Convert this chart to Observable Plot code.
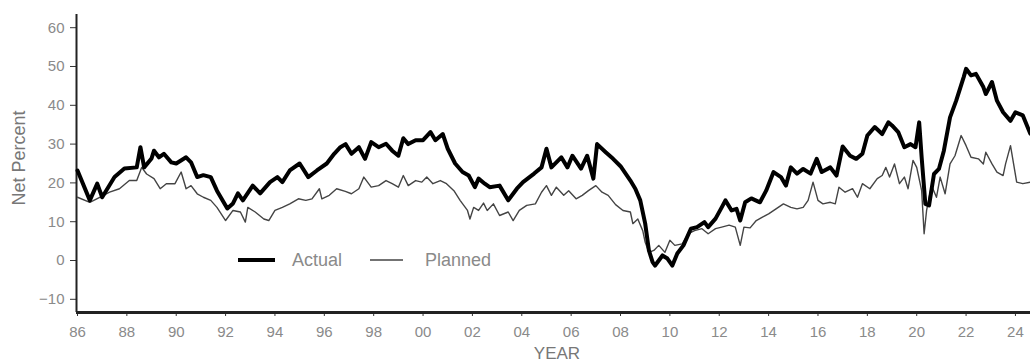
<!DOCTYPE html>
<html>
<head>
<meta charset="utf-8">
<script src="https://cdn.jsdelivr.net/npm/d3@7"></script>
<script src="https://cdn.jsdelivr.net/npm/@observablehq/plot@0.6"></script>
<style>
  body { margin: 0; background: #fff; }
  #wrap { position: relative; width: 1030px; height: 364px; overflow: hidden; font-family: "Liberation Sans", Arial, sans-serif; }
  #wrap svg text { fill: #8a8a8a; }
  .ylab { position: absolute; left: 19px; top: 158px; transform: translate(-50%, -50%) rotate(-90deg); font-size: 18px; color: #777; white-space: nowrap; }
  .xlab { position: absolute; left: 557px; top: 353px; transform: translate(-50%, -50%); font-size: 17px; line-height: 17px; color: #777; white-space: nowrap; }
  #legend { position: absolute; left: 0; top: 0; }
</style>
</head>
<body>
<div id="wrap"></div>
<script>
const seriesNames = ["Actual", "Planned"];
const xTickYears = [1986,1988,1990,1992,1994,1996,1998,2000,2002,2004,2006,2008,2010,2012,2014,2016,2018,2020,2022,2024];
const yTickValues = [-10,0,10,20,30,40,50,60];

const actualYear = [1986.0,1986.5,1986.8,1987.0,1987.5,1987.9,1988.4,1988.55,1988.7,1989.0,1989.1,1989.3,1989.5,1989.8,1990.0,1990.4,1990.6,1990.85,1991.1,1991.4,1991.65,1992.07,1992.3,1992.5,1992.7,1993.1,1993.4,1993.8,1994.1,1994.3,1994.6,1995.0,1995.35,1995.7,1996.1,1996.4,1996.65,1996.86,1997.1,1997.4,1997.65,1997.9,1998.2,1998.5,1998.75,1999.0,1999.2,1999.4,1999.7,2000.0,2000.3,2000.5,2000.8,2001.0,2001.3,2001.6,2001.85,2002.1,2002.25,2002.5,2002.7,2003.1,2003.45,2003.8,2004.05,2004.5,2004.8,2005.0,2005.2,2005.6,2005.85,2006.05,2006.4,2006.65,2006.9,2007.05,2007.4,2007.7,2008.0,2008.4,2008.6,2008.8,2009.0,2009.15,2009.3,2009.4,2009.7,2009.9,2010.1,2010.3,2010.55,2010.85,2011.1,2011.4,2011.55,2011.85,2012.1,2012.25,2012.5,2012.7,2012.85,2013.05,2013.3,2013.65,2013.9,2014.2,2014.5,2014.7,2014.9,2015.15,2015.4,2015.7,2015.95,2016.15,2016.5,2016.75,2017.0,2017.3,2017.55,2017.8,2018.0,2018.3,2018.6,2018.85,2019.0,2019.25,2019.5,2019.75,2019.95,2020.1,2020.2,2020.35,2020.5,2020.7,2020.9,2021.1,2021.35,2021.6,2021.9,2022.0,2022.2,2022.4,2022.7,2022.8,2023.05,2023.25,2023.5,2023.8,2024.0,2024.3,2024.6];
const actualValue = [23.2,15.5,19.8,16.3,21.5,23.7,24.0,29.2,24.0,26.3,28.3,26.6,27.5,25.3,25.0,26.6,25.3,21.5,22.0,21.5,18.0,13.4,14.7,17.3,15.5,19.3,17.3,20.2,21.5,20.2,23.2,25.0,21.5,23.2,25.0,27.5,29.2,30.0,27.5,29.2,26.2,30.5,29.2,30.1,28.3,27.0,31.5,30.0,31.0,31.0,33.1,31.0,32.6,28.8,25.0,22.8,21.9,18.9,21.1,19.8,18.9,19.3,15.5,18.5,20.2,22.4,24.0,28.8,24.0,26.6,24.0,27.0,23.7,27.0,21.1,30.0,27.9,26.2,24.3,20.6,18.5,15.5,9.5,2.6,-0.4,-1.3,1.3,0.5,-1.3,1.8,3.9,8.2,8.6,9.9,8.6,10.8,13.7,15.5,12.9,13.3,10.3,15.0,16.0,15.0,18.0,22.8,21.5,19.3,24.0,22.4,23.6,22.4,26.2,22.8,24.0,21.9,29.4,27.0,26.2,27.5,32.2,34.4,32.6,35.6,34.8,33.1,29.2,30.0,29.2,35.6,26.6,14.6,14.2,22.3,23.6,28.3,36.9,41.2,47.2,49.4,47.7,48.1,44.7,42.9,46.0,41.2,38.2,36.0,38.2,37.4,32.7];

const plannedYear = [1986.0,1986.5,1986.9,1987.3,1987.7,1988.1,1988.4,1988.6,1988.8,1989.1,1989.35,1989.6,1989.95,1990.2,1990.4,1990.6,1990.85,1991.1,1991.4,1991.65,1992.0,1992.3,1992.6,1992.8,1992.9,1993.2,1993.55,1993.75,1994.0,1994.3,1994.6,1994.95,1995.25,1995.5,1995.8,1995.9,1996.2,1996.5,1996.85,1997.1,1997.4,1997.6,1997.9,1998.2,1998.5,1998.75,1999.0,1999.2,1999.4,1999.7,1999.95,2000.15,2000.4,2000.7,2000.95,2001.25,2001.5,2001.8,2001.9,2002.05,2002.25,2002.45,2002.6,2002.85,2003.1,2003.45,2003.65,2003.9,2004.2,2004.55,2004.8,2005.0,2005.2,2005.4,2005.7,2005.9,2006.2,2006.45,2006.7,2007.0,2007.25,2007.5,2007.8,2008.1,2008.4,2008.5,2008.7,2008.9,2009.0,2009.15,2009.35,2009.55,2009.8,2010.0,2010.2,2010.5,2010.75,2011.0,2011.3,2011.55,2011.85,2012.1,2012.4,2012.65,2012.85,2013.0,2013.25,2013.5,2013.75,2014.0,2014.3,2014.6,2014.9,2015.15,2015.4,2015.6,2015.8,2016.0,2016.2,2016.5,2016.7,2016.85,2017.1,2017.4,2017.6,2017.8,2018.1,2018.4,2018.6,2018.75,2018.9,2019.1,2019.3,2019.5,2019.65,2019.85,2020.0,2020.2,2020.3,2020.4,2020.6,2020.8,2020.95,2021.15,2021.35,2021.55,2021.8,2022.0,2022.2,2022.5,2022.7,2022.8,2023.05,2023.25,2023.5,2023.6,2023.8,2024.05,2024.3,2024.6];
const plannedValue = [16.3,15.0,16.3,17.6,18.5,20.6,20.6,24.0,22.3,21.1,18.5,19.8,19.8,22.8,18.5,19.3,17.2,16.3,15.5,13.7,10.3,12.9,12.5,9.9,13.7,12.5,10.7,10.3,12.9,13.7,14.6,15.9,15.5,15.9,18.5,15.9,16.8,18.5,17.8,17.2,18.5,21.5,18.9,19.3,20.6,19.8,18.9,21.9,19.3,20.6,20.2,21.5,19.8,20.6,19.8,18.0,15.5,12.9,10.7,13.7,12.9,14.8,12.9,14.6,11.6,12.5,10.3,12.9,14.2,14.6,17.6,19.3,16.8,18.9,16.8,18.0,15.9,16.8,18.0,19.3,17.6,16.8,14.4,12.9,12.5,9.5,10.7,7.7,4.7,2.1,2.6,3.9,2.1,5.2,3.9,4.3,6.9,7.7,8.2,6.9,8.2,8.6,9.1,8.6,3.9,8.6,8.4,10.3,11.2,12.0,13.3,14.6,13.7,13.3,13.7,15.5,20.2,15.5,14.6,15.0,14.6,18.9,17.6,18.5,16.3,19.8,18.5,21.1,21.9,24.0,21.5,24.9,19.8,21.5,18.5,25.8,24.0,18.0,6.9,12.9,19.3,16.3,21.5,17.2,24.9,27.0,32.2,29.6,26.6,26.2,24.9,27.9,24.9,22.8,21.9,24.9,29.6,20.2,19.8,20.2];

const actual = actualYear.map((year, i) => ({year, value: actualValue[i]}));
const planned = plannedYear.map((year, i) => ({year, value: plannedValue[i]}));

const xDomain = [1985.96, 2024.61];
const yDomain = [-13.4, 63.4];

const chart = Plot.plot({
  width: 1030,
  height: 364,
  marginLeft: 76,
  marginRight: 0,
  marginTop: 14,
  marginBottom: 52,
  style: {fontFamily: "'Liberation Sans', Arial, sans-serif", fontSize: "15px", color: "#333", background: "white", overflow: "visible"},
  x: {domain: xDomain, ticks: xTickYears, tickFormat: d => String(d % 100).padStart(2, "0"), tickSize: 4, tickPadding: 10, label: null},
  y: {domain: yDomain, ticks: yTickValues, tickSize: 6, tickPadding: 6, label: null},
  marks: [
    Plot.ruleX([xDomain[0]], {stroke: "#222", strokeWidth: 2}),
    Plot.ruleY([yDomain[0]], {stroke: "#222", strokeWidth: 3}),
    Plot.line(planned, {x: "year", y: "value", stroke: "#444", strokeWidth: 1.4}),
    Plot.line(actual, {x: "year", y: "value", stroke: "#000", strokeWidth: 4, strokeLinejoin: "round"})
  ]
});

const wrap = document.getElementById("wrap");
wrap.appendChild(chart);

const ylab = document.createElement("div");
ylab.className = "ylab"; ylab.textContent = "Net Percent";
wrap.appendChild(ylab);
const xlab = document.createElement("div");
xlab.className = "xlab"; xlab.textContent = "YEAR";
wrap.appendChild(xlab);

const NS = "http://www.w3.org/2000/svg";
const leg = document.createElementNS(NS, "svg");
leg.setAttribute("id", "legend");
leg.setAttribute("width", 1030); leg.setAttribute("height", 364);
const items = [
  {x1: 238, x2: 275, w: 4, c: "#000", tx: 292},
  {x1: 370, x2: 403, w: 1.4, c: "#444", tx: 425}
];
items.forEach((it, i) => {
  const l = document.createElementNS(NS, "line");
  l.setAttribute("x1", it.x1); l.setAttribute("x2", it.x2);
  l.setAttribute("y1", 260); l.setAttribute("y2", 260);
  l.setAttribute("stroke", it.c); l.setAttribute("stroke-width", it.w);
  leg.appendChild(l);
  const t = document.createElementNS(NS, "text");
  t.setAttribute("x", it.tx); t.setAttribute("y", 266);
  t.setAttribute("font-size", "18px");
  t.setAttribute("font-family", "'Liberation Sans', Arial, sans-serif");
  t.setAttribute("fill", "#777");
  t.textContent = seriesNames[i];
  leg.appendChild(t);
});
wrap.appendChild(leg);
</script>
</body>
</html>
